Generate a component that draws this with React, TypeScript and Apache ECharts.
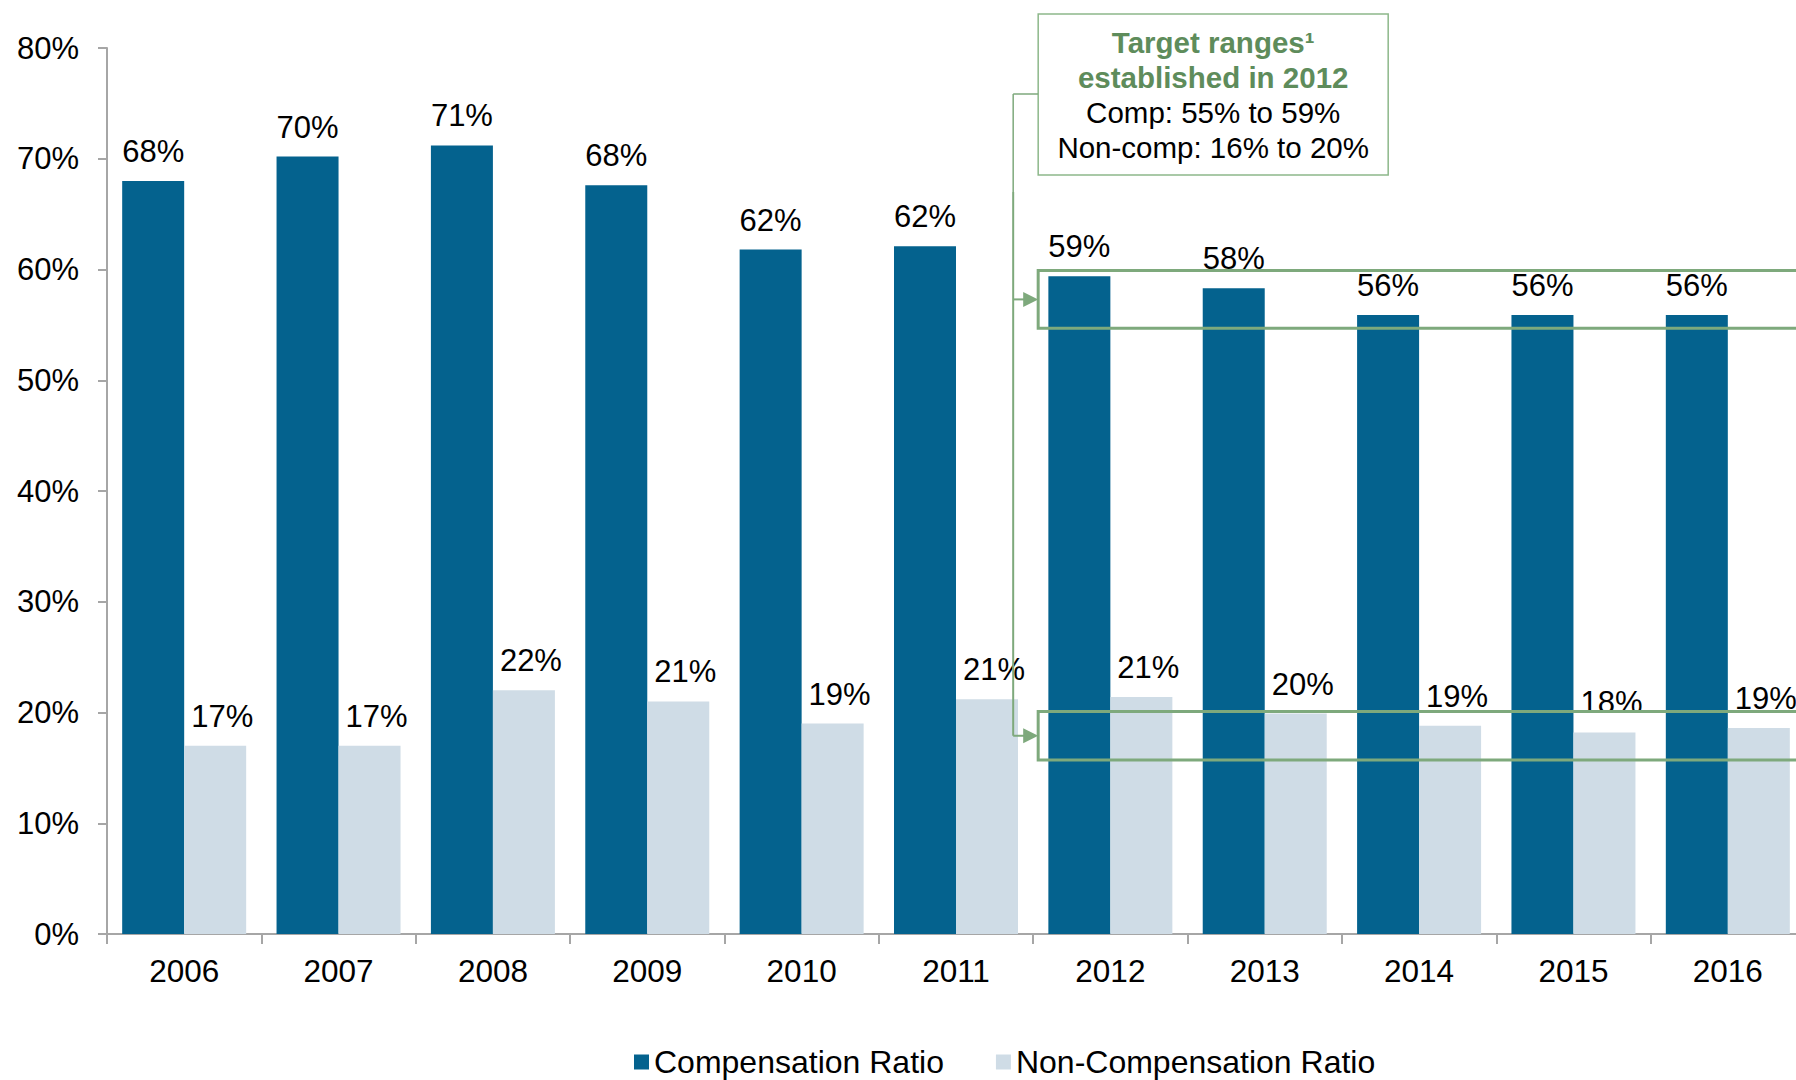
import React, { useEffect, useRef } from "react";
import * as echarts from "echarts";

const years = ["2006", "2007", "2008", "2009", "2010", "2011", "2012", "2013", "2014", "2015", "2016"];
const compRatio = [68.0, 70.2, 71.2, 67.6, 61.8, 62.1, 59.4, 58.3, 55.9, 55.9, 55.9];
const nonCompRatio = [17.0, 17.0, 22.0, 21.0, 19.0, 21.2, 21.4, 19.9, 18.8, 18.2, 18.6];
const seriesNames = ["Compensation Ratio", "Non-Compensation Ratio"];
const targetStartYear = "2012";
const compTargetBox = [54.7, 59.9];
const nonCompTargetBox = [15.7, 20.1];
const boxLines = ["Target ranges\u00B9", "established in 2012", "Comp: 55% to 59%", "Non-comp: 16% to 20%"];

const FONT = "'Liberation Sans', Arial, Helvetica, sans-serif";
const COMP = "#04628E";
const NONCOMP = "#CFDCE6";
const GREEN = "#7EA97C";
const GREEN_TEXT = "#5E8C5B";
const AXIS = "#A6A6A6";

export default function App() {
  const ref = useRef<HTMLDivElement>(null);
  useEffect(() => {
    if (!ref.current) return;
    const chart = echarts.init(ref.current, undefined, { renderer: "svg" });
    const fmt = (p: any) => Math.round(p.value) + "%";
    chart.setOption({
      animation: false,
      textStyle: { fontFamily: FONT },
      grid: { left: 107, top: 48, width: 1698, height: 886, containLabel: false },
      legend: {
        left: 629,
        top: 1041,
        itemWidth: 15,
        itemHeight: 15,
        itemGap: 52,
        icon: "rect",
        textStyle: { fontSize: 32, color: "#000", fontFamily: FONT },
        data: seriesNames,
      },
      xAxis: {
        type: "category",
        data: years,
        axisLine: { lineStyle: { color: AXIS, width: 2 } },
        axisTick: { show: true, length: 10, lineStyle: { color: AXIS, width: 2 } },
        axisLabel: { fontSize: 31.5, color: "#000", margin: 21, fontFamily: FONT },
      },
      yAxis: {
        type: "value",
        min: 0,
        max: 80,
        interval: 10,
        splitLine: { show: false },
        axisLine: { show: true, lineStyle: { color: AXIS, width: 2 } },
        axisTick: { show: true, length: 9, lineStyle: { color: AXIS, width: 2 } },
        axisLabel: { fontSize: 31, color: "#000", margin: 28, formatter: "{value}%", fontFamily: FONT },
      },
      series: [
        {
          name: seriesNames[0],
          type: "bar",
          data: compRatio,
          barWidth: 62,
          barGap: "0%",
          itemStyle: { color: COMP },
          label: { show: true, position: "top", distance: 14, fontSize: 31, color: "#000", formatter: fmt, fontFamily: FONT },
        },
        {
          name: seriesNames[1],
          type: "bar",
          data: nonCompRatio,
          barWidth: 62,
          barGap: "0%",
          itemStyle: { color: NONCOMP },
          label: { show: true, position: "top", distance: 14, offset: [7, 0], fontSize: 31, color: "#000", formatter: fmt, fontFamily: FONT },
        },
      ],
    });

    const xStart = chart.convertToPixel({ xAxisIndex: 0 }, targetStartYear) as number;
    const xNext = chart.convertToPixel({ xAxisIndex: 0 }, years[years.indexOf(targetStartYear) + 1]) as number;
    const band = xNext - xStart;
    const left = xStart - band / 2 + 5;
    const right = chart.getWidth() + 30;
    const yp = (v: number) => chart.convertToPixel({ yAxisIndex: 0 }, v) as number;
    const upTop = yp(compTargetBox[1]);
    const upBot = yp(compTargetBox[0]);
    const loTop = yp(nonCompTargetBox[1]);
    const loBot = yp(nonCompTargetBox[0]);
    const upMid = (upTop + upBot) / 2;
    const loMid = (loTop + loBot) / 2;
    const cx = left - 25;
    const infoW = 350;
    const infoTop = 14;
    const infoH = 161;
    const connY = 94;
    const tcx = left + infoW / 2;
    const lineYs = [42, 77, 112, 147];

    const arrow = (y: number) => [
      { type: "line", shape: { x1: cx, y1: y, x2: left - 14, y2: y }, style: { stroke: GREEN, lineWidth: 2 } },
      { type: "polygon", shape: { points: [[left - 15, y - 7.5], [left, y], [left - 15, y + 7.5]] }, style: { fill: GREEN } },
    ];

    chart.setOption({
      graphic: [
        { type: "rect", shape: { x: left, y: upTop, width: right - left, height: upBot - upTop }, style: { fill: "none", stroke: GREEN, lineWidth: 3 }, z: 10 },
        { type: "rect", shape: { x: left, y: loTop, width: right - left, height: loBot - loTop }, style: { fill: "none", stroke: GREEN, lineWidth: 3 }, z: 10 },
        { type: "rect", shape: { x: left, y: infoTop, width: infoW, height: infoH }, style: { fill: "#fff", stroke: "#8DB88A", lineWidth: 1.5 }, z: 10 },
        { type: "line", shape: { x1: left, y1: connY, x2: cx, y2: connY }, style: { stroke: GREEN, lineWidth: 1.5 }, z: 10 },
        { type: "line", shape: { x1: cx, y1: connY, x2: cx, y2: 192 }, style: { stroke: GREEN, lineWidth: 1.5 }, z: 10 },
        { type: "line", shape: { x1: cx, y1: 192, x2: cx, y2: loMid }, style: { stroke: GREEN, lineWidth: 2 }, z: 10 },
        ...arrow(upMid).map((e) => ({ ...e, z: 10 })),
        ...arrow(loMid).map((e) => ({ ...e, z: 10 })),
        ...boxLines.map((t, i) => ({
          type: "text",
          x: tcx,
          y: lineYs[i],
          z: 11,
          style: {
            text: t,
            fill: i < 2 ? GREEN_TEXT : "#000",
            font: (i < 2 ? "bold " : "") + "29.5px " + FONT,
            textAlign: "center",
            textVerticalAlign: "middle",
          },
        })),
      ],
    });

    return () => chart.dispose();
  }, []);
  return (
    <div style={{ position: "fixed", left: 0, top: 0, width: 1796, height: 1080, overflow: "hidden", background: "#fff" }}>
      <div ref={ref} style={{ width: 1830, height: 1080 }} />
    </div>
  );
}
